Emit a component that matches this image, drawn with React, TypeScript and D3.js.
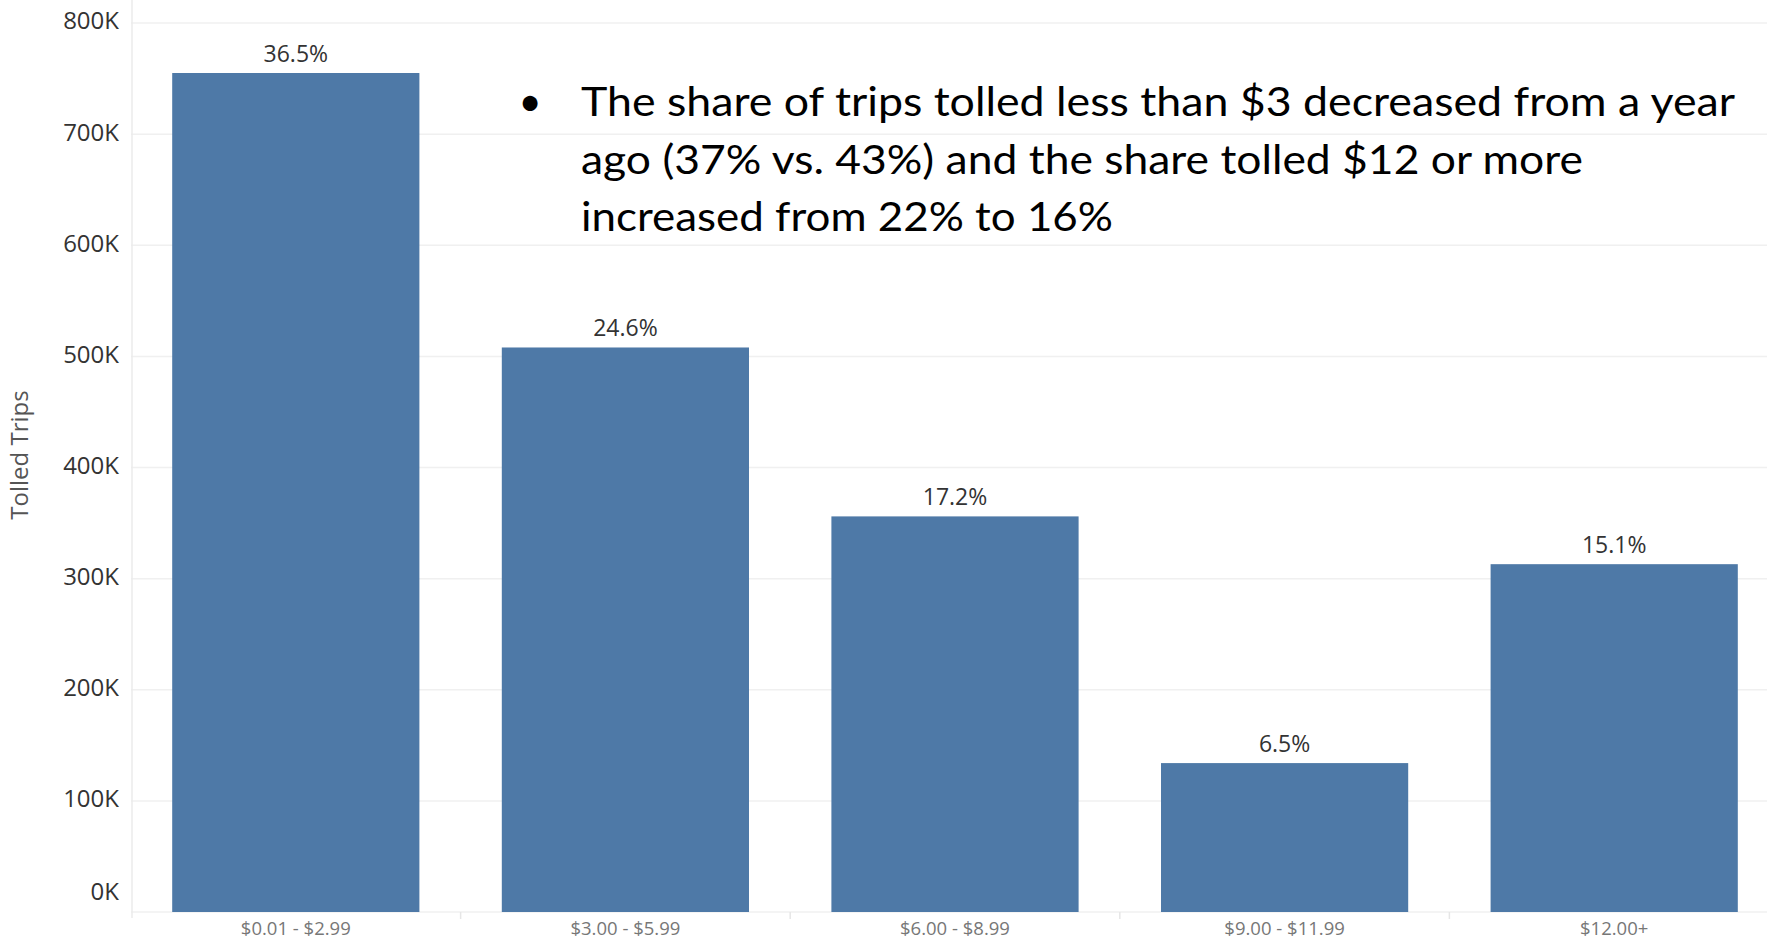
import { useEffect } from 'react';
import * as d3 from 'd3';

const categories = ['$0.01 - $2.99', '$3.00 - $5.99', '$6.00 - $8.99', '$9.00 - $11.99', '$12.00+'];
const trips = [755000, 508000, 356000, 134000, 313000];
const shares = ['36.5%', '24.6%', '17.2%', '6.5%', '15.1%'];
const yTicks = [0, 100000, 200000, 300000, 400000, 500000, 600000, 700000, 800000];
const noteLines = [
  'The share of trips tolled less than $3 decreased from a year',
  'ago (37% vs. 43%) and the share tolled $12 or more',
  'increased from 22% to 16%',
];
const noteWidths = [1154, 1002, 532];

const W = 1767;
const H = 939;
const margin = { top: 23, left: 131, bottom: 912, right: 1779 };
const font = "'Open Sans', 'Noto Sans', sans-serif";

export default function App() {
  useEffect(() => {
    document.body.style.margin = '0';
  }, []);

  const x = d3
    .scaleBand<string>()
    .domain(categories)
    .range([margin.left, margin.right])
    .paddingInner(0.25)
    .paddingOuter(0.125);

  const y = d3.scaleLinear().domain([0, 800000]).range([margin.bottom, margin.top]);

  const fmt = (v: number) => `${d3.format('d')(v / 1000)}K`;
  const dividers = categories.slice(1).map(c => (x(c) ?? 0) - (x.step() * x.paddingInner()) / 2);

  return (
    <svg width={W} height={H} style={{ display: 'block', background: '#fff' }}>
      {/* grid */}
      {yTicks.map(t => (
        <line key={t} x1={margin.left} x2={W} y1={y(t)} y2={y(t)} stroke="#f0f0f0" strokeWidth={1.5} />
      ))}
      <line x1={132} x2={132} y1={0} y2={margin.bottom + 6} stroke="#ebebeb" strokeWidth={1.5} />
      {dividers.map((d, i) => (
        <line key={i} x1={d} x2={d} y1={margin.bottom} y2={margin.bottom + 7} stroke="#e6e6e6" strokeWidth={1.5} />
      ))}

      {/* bars */}
      {categories.map((c, i) => (
        <g key={c}>
          <rect
            x={x(c)}
            y={y(trips[i])}
            width={x.bandwidth()}
            height={y(0) - y(trips[i])}
            fill="#4e79a7"
          />
          <text
            x={(x(c) ?? 0) + x.bandwidth() / 2}
            y={y(trips[i]) - 11}
            textAnchor="middle"
            fontFamily={font}
            fontSize={23}
            fill="#333"
          >
            {shares[i]}
          </text>
          <text
            x={(x(c) ?? 0) + x.bandwidth() / 2}
            y={930}
            textAnchor="middle"
            dominantBaseline="middle"
            fontFamily={font}
            fontSize={18.5}
            fill="#777"
          >
            {c}
          </text>
        </g>
      ))}

      {/* y axis labels */}
      {yTicks.map(t => (
        <text
          key={t}
          x={119}
          y={t === 0 ? y(t) - 18 : y(t)}
          textAnchor="end"
          dominantBaseline="middle"
          fontFamily={font}
          fontSize={24}
          fill="#333"
        >
          {fmt(t)}
        </text>
      ))}
      <text
        transform="translate(22,455) rotate(-90)"
        textAnchor="middle"
        dominantBaseline="middle"
        fontFamily={font}
        fontSize={24}
        fill="#555"
      >
        Tolled Trips
      </text>

      {/* annotation */}
      <text x={530} y={116} textAnchor="middle" fontFamily="Lato, sans-serif" fontSize={40} fill="#000">
        •
      </text>
      {noteLines.map((l, i) => (
        <text
          key={i}
          x={581}
          y={116 + i * 57.5}
          fontFamily="Lato, sans-serif"
          fontSize={40}
          fill="#000"
          textLength={noteWidths[i]}
          lengthAdjust="spacingAndGlyphs"
        >
          {l}
        </text>
      ))}
    </svg>
  );
}
